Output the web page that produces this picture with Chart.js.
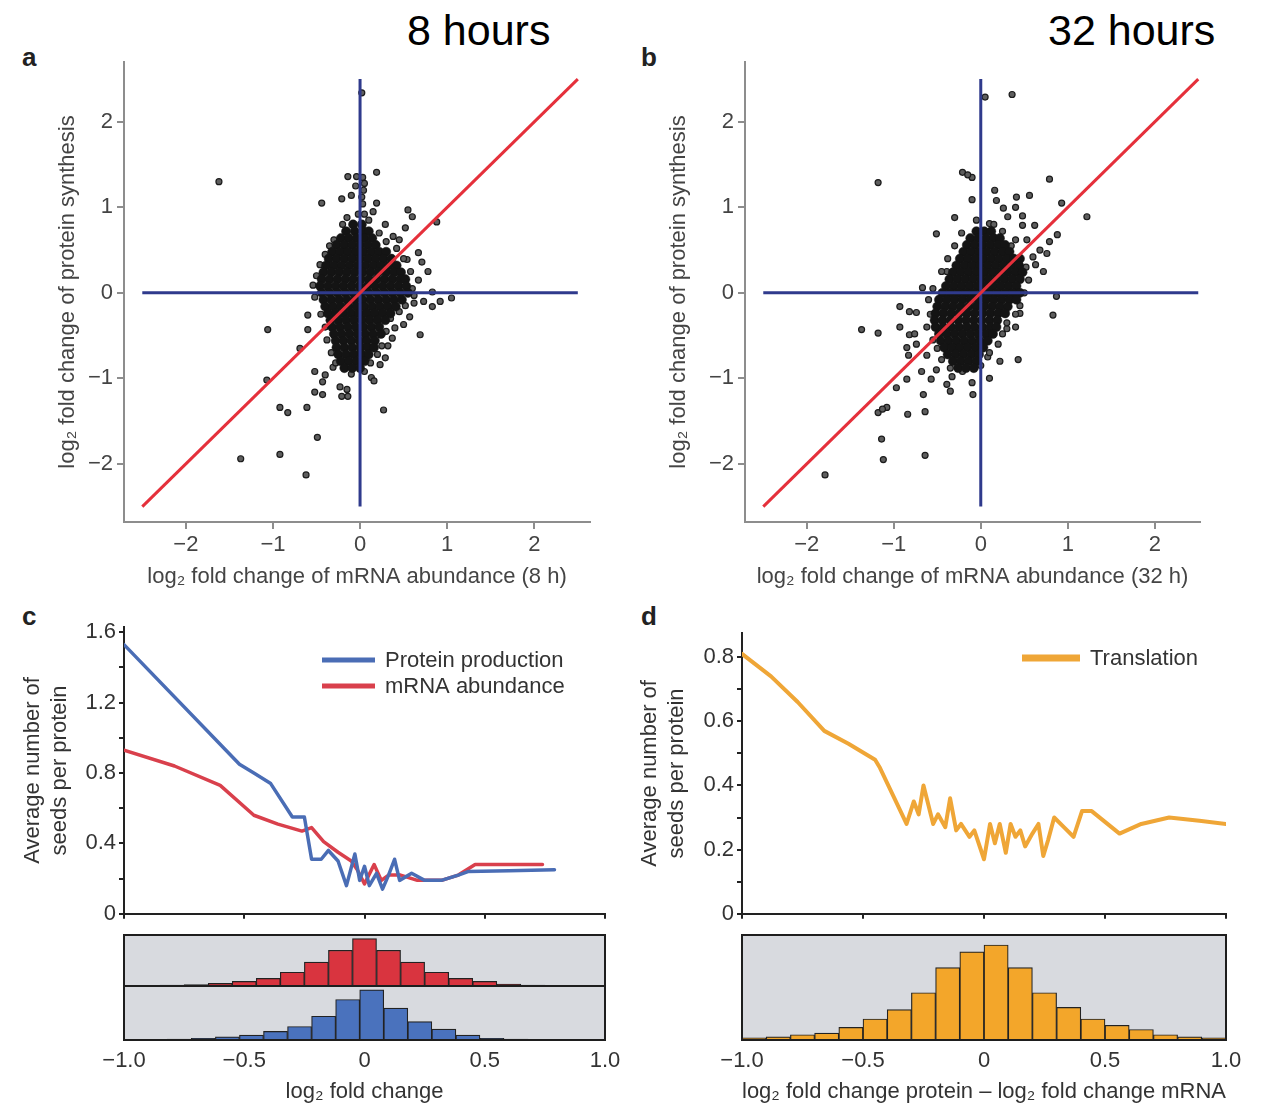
<!DOCTYPE html>
<html>
<head>
<meta charset="utf-8">
<script src="https://cdn.jsdelivr.net/npm/chart.js@4.4.1/dist/chart.umd.min.js"></script>
<style>
  html, body { margin: 0; padding: 0; background: #fff; }
  body { width: 1269px; height: 1108px; position: relative; overflow: hidden; font-family: 'Liberation Sans', Arial, sans-serif; }
  .box { position: absolute; }
  .hours { position: absolute; font-size: 43px; line-height: 1; color: #000; white-space: nowrap; }
  .tag { position: absolute; font-size: 26px; font-weight: bold; line-height: 1; color: #222; }
</style>
</head>
<body>
<div class="hours" style="left:407px;top:9px">8 hours</div>
<div class="hours" style="left:1048px;top:9px">32 hours</div>
<div class="tag" style="left:22px;top:44px">a</div>
<div class="tag" style="left:641px;top:44px">b</div>
<div class="tag" style="left:22px;top:603px">c</div>
<div class="tag" style="left:641px;top:603px">d</div>

<div class="box" style="left:0;top:40px;width:620px;height:560px"><canvas id="scatterA"></canvas></div>
<div class="box" style="left:620px;top:40px;width:649px;height:560px"><canvas id="scatterB"></canvas></div>
<div class="box" style="left:0;top:600px;width:620px;height:330px"><canvas id="lineC"></canvas></div>
<div class="box" style="left:620px;top:600px;width:649px;height:330px"><canvas id="lineD"></canvas></div>
<div class="box" style="left:123px;top:934px;width:483px;height:53px"><canvas id="histCTop"></canvas></div>
<div class="box" style="left:64px;top:985px;width:601px;height:123px"><canvas id="histCBottom"></canvas></div>
<div class="box" style="left:680px;top:934px;width:589px;height:174px"><canvas id="histD"></canvas></div>

<script>
// ---- panels a/b: genes outside the dense core, [mRNA, protein] ----
const spreadA = [
  [-1.62, 1.30], [0.02, 2.34], [0.19, 1.41], [-0.14, 1.36], [-0.04, 1.36], [0.03, 1.35],
  [-0.44, 1.05], [-0.21, 1.10], [-0.10, 1.14], [0.04, 1.20], [0.19, 1.05], [0.15, 0.95],
  [0.03, 1.04], [0.55, 0.97], [0.60, 0.89], [0.88, 0.83], [-0.15, 0.88], [0.29, 0.80],
  [0.52, 0.76], [0.38, 0.66], [0.45, 0.62], [0.67, 0.47], [0.71, 0.36], [0.78, 0.25],
  [0.67, 0.15], [-0.54, 0.09], [-0.46, 0.33], [0.54, 0.39], [0.83, 0.01], [-0.02, 0.92],
  [0.02, 1.12], [-0.05, 1.25], [0.05, 1.28],
  [-1.06, -0.43], [-0.60, -0.26], [-0.60, -0.43], [-0.69, -0.65], [-1.07, -1.02],
  [-0.92, -1.34], [-0.83, -1.40], [-0.61, -1.34], [-0.49, -1.69], [-0.92, -1.89],
  [-1.37, -1.94], [-0.62, -2.13], [0.27, -1.37], [-0.52, -0.92], [-0.40, -0.96],
  [-0.43, -1.04], [-0.52, -1.16], [-0.43, -1.19], [-0.23, -1.10], [-0.15, -1.13],
  [-0.21, -1.21], [-0.14, -1.21], [-0.31, -0.87], [-0.08, -0.88], [0.13, -0.99],
  [0.16, -1.03], [0.29, -0.76], [0.23, -0.84], [0.37, -0.53], [0.32, -0.62], [0.40, -0.41],
  [0.50, -0.37], [0.57, -0.28], [0.69, -0.49], [0.83, -0.16], [0.92, -0.10], [1.05, -0.06],
  [0.73, -0.10], [0.62, -0.12], [0.04, -0.57], [0.00, -0.70], [0.07, -0.78],
  [-0.50, 0.20], [-0.52, -0.05], [0.60, 0.05], [0.62, -0.03], [0.58, 0.25], [0.50, 0.40],
  [0.42, 0.52], [0.30, 0.60], [0.22, 0.70], [-0.30, 0.62], [-0.35, 0.55], [-0.40, 0.45],
  [-0.45, -0.25], [-0.40, -0.40], [-0.38, -0.55], [-0.33, -0.70], [0.30, -0.45],
  [0.35, -0.30], [0.45, -0.22], [0.52, -0.15], [0.25, -0.62], [0.20, -0.72], [0.12, -0.82],
  [-0.28, -0.82], [0.05, -0.92], [-0.10, -0.95], [0.10, 0.85], [-0.20, 0.80], [0.05, 0.92],
]
// dense core, one row per protein level: [protein, [mRNA values]]
const coreA = [
  [0.80, [-0.08, 0.02]],
  [0.72, [-0.16, -0.06, 0.04, 0.10]],
  [0.64, [-0.22, -0.13, -0.04, 0.05, 0.14]],
  [0.56, [-0.27, -0.18, -0.09, 0.00, 0.09, 0.18]],
  [0.48, [-0.32, -0.23, -0.14, -0.05, 0.04, 0.13, 0.22, 0.30]],
  [0.40, [-0.36, -0.27, -0.18, -0.09, 0.00, 0.09, 0.18, 0.27, 0.36]],
  [0.32, [-0.39, -0.30, -0.21, -0.12, -0.03, 0.06, 0.15, 0.24, 0.33, 0.42]],
  [0.24, [-0.42, -0.33, -0.24, -0.15, -0.06, 0.03, 0.12, 0.21, 0.30, 0.39, 0.47]],
  [0.16, [-0.44, -0.35, -0.26, -0.17, -0.08, 0.01, 0.10, 0.19, 0.28, 0.37, 0.46, 0.52]],
  [0.08, [-0.46, -0.37, -0.28, -0.19, -0.10, -0.01, 0.08, 0.17, 0.26, 0.35, 0.44, 0.53]],
  [0.00, [-0.44, -0.35, -0.26, -0.17, -0.08, 0.01, 0.10, 0.19, 0.28, 0.37, 0.46, 0.55]],
  [-0.08, [-0.42, -0.33, -0.24, -0.15, -0.06, 0.03, 0.12, 0.21, 0.30, 0.39, 0.48]],
  [-0.16, [-0.40, -0.31, -0.22, -0.13, -0.04, 0.05, 0.14, 0.23, 0.32, 0.41]],
  [-0.24, [-0.37, -0.28, -0.19, -0.10, -0.01, 0.08, 0.17, 0.26, 0.35]],
  [-0.32, [-0.34, -0.25, -0.16, -0.07, 0.02, 0.11, 0.20, 0.29]],
  [-0.40, [-0.32, -0.23, -0.14, -0.05, 0.04, 0.13, 0.22]],
  [-0.48, [-0.30, -0.21, -0.12, -0.03, 0.06, 0.15, 0.24]],
  [-0.56, [-0.28, -0.19, -0.10, -0.01, 0.08, 0.17]],
  [-0.64, [-0.27, -0.18, -0.09, 0.00, 0.09, 0.16]],
  [-0.72, [-0.25, -0.16, -0.07, 0.02, 0.10]],
  [-0.80, [-0.22, -0.13, -0.04, 0.05]],
  [-0.88, [-0.18, -0.09, 0.00]],
]
const spreadB = [
  [0.36, 2.32], [0.05, 2.29], [-1.18, 1.29], [-0.21, 1.41], [-0.10, 1.35], [-0.15, 1.38],
  [0.79, 1.33], [-0.10, 1.09], [0.16, 1.20], [0.41, 1.12], [0.56, 1.14], [0.93, 1.05],
  [1.22, 0.89], [-0.30, 0.88], [-0.51, 0.69], [0.10, 0.81], [0.31, 0.89], [0.48, 0.90],
  [0.48, 0.79], [0.62, 0.79], [0.26, 0.99], [0.18, 1.08], [0.40, 1.00], [0.88, 0.68],
  [0.79, 0.60], [0.68, 0.50], [0.76, 0.46], [0.53, 0.62], [0.72, 0.25], [0.63, 0.33],
  [-0.39, 0.25], [-0.67, 0.06],
  [-1.37, -0.43], [-1.18, -0.47], [-0.93, -0.16], [-0.93, -0.40], [-0.82, -0.22],
  [-0.74, -0.23], [-0.82, -0.49], [-0.76, -0.48], [-0.85, -0.64], [-0.83, -0.73],
  [-0.74, -0.60], [-0.68, -0.92], [-0.62, -0.73], [-0.97, -1.11], [-0.85, -1.01],
  [-1.08, -1.34], [-1.18, -1.40], [-1.13, -1.36], [-0.84, -1.42], [-0.64, -1.39], [-0.66, -1.19],
  [-1.14, -1.71], [-1.12, -1.95], [-0.64, -1.90], [-1.79, -2.13], [-0.39, -1.07],
  [-0.35, -1.15], [-0.57, -1.01], [-0.51, -0.90], [-0.33, -0.98], [-0.21, -0.92],
  [-0.10, -1.05], [-0.09, -1.19], [0.10, -1.00], [0.08, -0.75], [0.22, -0.80], [0.43, -0.78],
  [0.83, -0.26], [0.87, -0.04], [0.45, -0.24], [0.40, -0.40], [0.30, -0.42],
  [-0.55, 0.05], [-0.60, -0.08], [-0.58, -0.25], [-0.62, -0.40], [-0.55, -0.55],
  [-0.50, -0.65], [-0.45, -0.78], [-0.35, -0.88], [0.52, 0.30], [0.55, 0.15], [0.50, 0.00],
  [0.45, -0.15], [0.40, -0.25], [0.30, -0.35], [0.25, -0.48], [0.20, -0.60], [0.10, -0.70],
  [0.00, -0.85], [0.35, 0.55], [0.40, 0.62], [0.25, 0.72], [0.15, 0.80], [-0.05, 0.85],
  [-0.22, 0.70], [-0.30, 0.55], [-0.38, 0.40], [-0.45, 0.25], [0.60, 0.42],
]
const coreB = [
  [0.72, [-0.05, 0.04, 0.12]],
  [0.64, [-0.12, -0.03, 0.06, 0.15, 0.22]],
  [0.56, [-0.16, -0.07, 0.02, 0.11, 0.20, 0.28]],
  [0.48, [-0.20, -0.11, -0.02, 0.07, 0.16, 0.25, 0.33]],
  [0.40, [-0.24, -0.15, -0.06, 0.03, 0.12, 0.21, 0.30, 0.38, 0.45]],
  [0.32, [-0.28, -0.19, -0.10, -0.01, 0.08, 0.17, 0.26, 0.35, 0.44]],
  [0.24, [-0.32, -0.23, -0.14, -0.05, 0.04, 0.13, 0.22, 0.31, 0.40, 0.48]],
  [0.16, [-0.36, -0.27, -0.18, -0.09, 0.00, 0.09, 0.18, 0.27, 0.36, 0.45]],
  [0.08, [-0.40, -0.31, -0.22, -0.13, -0.04, 0.05, 0.14, 0.23, 0.32, 0.41]],
  [0.00, [-0.44, -0.35, -0.26, -0.17, -0.08, 0.01, 0.10, 0.19, 0.28, 0.37, 0.45]],
  [-0.08, [-0.48, -0.39, -0.30, -0.21, -0.12, -0.03, 0.06, 0.15, 0.24, 0.33, 0.41]],
  [-0.16, [-0.50, -0.41, -0.32, -0.23, -0.14, -0.05, 0.04, 0.13, 0.22, 0.31]],
  [-0.24, [-0.52, -0.43, -0.34, -0.25, -0.16, -0.07, 0.02, 0.11, 0.20, 0.28]],
  [-0.32, [-0.53, -0.44, -0.35, -0.26, -0.17, -0.08, 0.01, 0.10, 0.19]],
  [-0.40, [-0.52, -0.43, -0.34, -0.25, -0.16, -0.07, 0.02, 0.11, 0.18]],
  [-0.48, [-0.48, -0.39, -0.30, -0.21, -0.12, -0.03, 0.06, 0.14]],
  [-0.56, [-0.46, -0.37, -0.28, -0.19, -0.10, -0.01, 0.08]],
  [-0.64, [-0.42, -0.33, -0.24, -0.15, -0.06, 0.03]],
  [-0.72, [-0.38, -0.29, -0.20, -0.11, -0.02]],
  [-0.80, [-0.32, -0.23, -0.14, -0.05]],
  [-0.88, [-0.26, -0.17, -0.08]],
]
const guideEnds = [-2.5, 2.5]

// ---- panel c: seeds per protein vs log2 fold change ----
const proteinX = [-1.0, -0.52, -0.46, -0.39, -0.30, -0.25, -0.22, -0.18, -0.15, -0.11, -0.075, -0.04, -0.02, 0.0, 0.02, 0.05, 0.075, 0.10, 0.125, 0.146, 0.196, 0.25, 0.32, 0.39, 0.43, 0.60, 0.79]
const proteinY = [1.53, 0.85, 0.80, 0.74, 0.55, 0.55, 0.31, 0.31, 0.36, 0.30, 0.16, 0.34, 0.19, 0.27, 0.16, 0.23, 0.14, 0.22, 0.31, 0.19, 0.23, 0.19, 0.19, 0.22, 0.24, 0.245, 0.25]
const mrnaX = [-1.0, -0.79, -0.60, -0.46, -0.36, -0.26, -0.22, -0.17, -0.11, -0.055, -0.03, 0.0, 0.04, 0.07, 0.10, 0.15, 0.22, 0.32, 0.39, 0.46, 0.74]
const mrnaY = [0.93, 0.84, 0.73, 0.56, 0.51, 0.47, 0.49, 0.41, 0.35, 0.30, 0.25, 0.17, 0.28, 0.19, 0.22, 0.22, 0.19, 0.19, 0.22, 0.28, 0.28]

// ---- panel d: seeds per protein vs translation change ----
const translationX = [-1.0, -0.88, -0.77, -0.66, -0.56, -0.45, -0.43, -0.37, -0.32, -0.29, -0.27, -0.25, -0.21, -0.19, -0.16, -0.14, -0.115, -0.095, -0.06, -0.04, 0.0, 0.025, 0.045, 0.065, 0.09, 0.11, 0.13, 0.15, 0.17, 0.20, 0.225, 0.245, 0.265, 0.29, 0.33, 0.37, 0.405, 0.445, 0.56, 0.65, 0.765, 0.89, 1.0]
const translationY = [0.81, 0.74, 0.66, 0.57, 0.53, 0.48, 0.455, 0.36, 0.28, 0.35, 0.31, 0.40, 0.28, 0.31, 0.27, 0.36, 0.26, 0.28, 0.24, 0.26, 0.17, 0.28, 0.22, 0.28, 0.19, 0.28, 0.24, 0.26, 0.21, 0.25, 0.28, 0.18, 0.23, 0.30, 0.27, 0.24, 0.32, 0.32, 0.25, 0.28, 0.30, 0.29, 0.28]

// ---- histograms (relative counts, bin centres) ----
const mrnaBins = [-1.0, -0.9, -0.8, -0.7, -0.6, -0.5, -0.4, -0.3, -0.2, -0.1, 0.0, 0.1, 0.2, 0.3, 0.4, 0.5, 0.6, 0.7, 0.8, 0.9, 1.0]
const mrnaCounts = [0.5, 1, 2, 3, 5, 9, 15, 27, 47, 70, 93, 70, 47, 27, 15, 9, 4, 2, 1, 0.5, 0.3]
const proteinBins = [-0.97, -0.87, -0.77, -0.67, -0.57, -0.47, -0.37, -0.27, -0.17, -0.07, 0.03, 0.13, 0.23, 0.33, 0.43, 0.53, 0.63, 0.73, 0.83, 0.93]
const proteinCounts = [0.5, 1, 1.5, 3, 6, 9, 16, 25, 44, 75, 93, 59, 34, 20, 9, 3, 1.5, 1, 0.5, 0.5]
const translationBins = [-0.95, -0.85, -0.75, -0.65, -0.55, -0.45, -0.35, -0.25, -0.15, -0.05, 0.05, 0.15, 0.25, 0.35, 0.45, 0.55, 0.65, 0.75, 0.85, 0.95]
const translationCounts = [2, 3, 5, 6.5, 12, 20, 29, 45, 69, 84, 90.5, 69, 45, 31, 20, 14, 10, 5, 3, 2]

const FONT = "'Liberation Sans', Arial, Helvetica, sans-serif"
Chart.defaults.font.family = FONT
Chart.defaults.font.size = 22
Chart.defaults.color = '#3a3a3a'
Chart.defaults.animation = false

const zip = (xs, ys) => xs.map((x, i) => ({ x, y: ys[i] }))
const pairs = arr => arr.map(([x, y]) => ({ x, y }))
const cloud = rows => rows.flatMap(([y, xs]) => xs.map(x => ({ x, y })))
const minus = v => (v < 0 ? '\u2212' + Math.abs(v) : String(v))
const oneDp = v => (Math.abs(v) < 1e-9 ? '0' : (v < 0 ? '\u2212' : '') + Math.abs(v).toFixed(1))

const lineLegend = {
  id: 'lineLegend',
  afterDraw(chart, args, opts) {
    const ctx = chart.ctx
    ctx.save()
    ctx.font = '22px ' + FONT
    ctx.textBaseline = 'middle'
    chart.data.datasets.forEach((ds, i) => {
      const y = opts.y + i * opts.rowGap
      ctx.strokeStyle = ds.borderColor
      ctx.lineWidth = opts.lineWidth
      ctx.beginPath()
      ctx.moveTo(opts.x, y)
      ctx.lineTo(opts.x + opts.length, y)
      ctx.stroke()
      ctx.fillStyle = '#333'
      ctx.fillText(ds.label, opts.x + opts.length + 10, y + 1)
    })
    ctx.restore()
  },
}

const panelBox = {
  id: 'panelBox',
  beforeDatasetsDraw(chart) {
    const { ctx, chartArea: a } = chart
    ctx.save()
    ctx.fillStyle = '#d8dadf'
    ctx.fillRect(a.left, a.top, a.right - a.left, a.bottom - a.top)
    ctx.restore()
  },
  afterDatasetsDraw(chart) {
    const { ctx, chartArea: a } = chart
    ctx.save()
    ctx.strokeStyle = '#1e1e1e'
    ctx.lineWidth = 2
    ctx.strokeRect(a.left, a.top, a.right - a.left, a.bottom - a.top)
    ctx.restore()
  },
}

function scatterChart(id, core, spread, cfg) {
  const axisColor = '#8d8d8d'
  return new Chart(document.getElementById(id), {
    type: 'scatter',
    data: {
      datasets: [
        { data: zip(guideEnds, guideEnds), showLine: true, borderColor: '#e5303b', borderWidth: 3, pointRadius: 0, order: 0 },
        { data: zip(guideEnds, [0, 0]), showLine: true, borderColor: '#2f3a8c', borderWidth: 3, pointRadius: 0, order: 1 },
        { data: zip([0, 0], guideEnds), showLine: true, borderColor: '#2f3a8c', borderWidth: 3, pointRadius: 0, order: 1 },
        { data: cloud(core), pointRadius: 4.6, backgroundColor: '#141414', borderColor: '#141414', borderWidth: 0.5, order: 2 },
        { data: pairs(spread), pointRadius: 3, backgroundColor: '#5e5e5e', borderColor: '#1b1b1b', borderWidth: 1.2, order: 2 },
      ],
    },
    options: {
      responsive: true,
      maintainAspectRatio: false,
      layout: { padding: { top: 22, right: cfg.padRight, left: 0, bottom: 0 } },
      plugins: { legend: { display: false }, tooltip: { enabled: false } },
      scales: {
        x: {
          type: 'linear', min: cfg.xMin, max: cfg.xMax,
          afterFit: s => { s.height = 78 },
          border: { color: axisColor, width: 2 },
          grid: { drawOnChartArea: false, tickLength: 7, color: axisColor, lineWidth: 2 },
          ticks: { stepSize: 1, includeBounds: false, padding: 3, color: '#444', callback: minus },
          title: { display: true, text: cfg.xTitle, color: '#444', padding: { top: 0, bottom: 10 } },
        },
        y: {
          type: 'linear', min: -2.68, max: 2.7,
          afterFit: s => { s.width = cfg.yWidth },
          border: { color: axisColor, width: 2 },
          grid: { drawOnChartArea: false, tickLength: 7, color: axisColor, lineWidth: 2 },
          ticks: { stepSize: 1, includeBounds: false, padding: 4, color: '#444', callback: minus },
          title: { display: true, text: 'log\u2082 fold change of protein synthesis', color: '#444', padding: { top: cfg.titlePad, bottom: 0 } },
        },
      },
    },
  })
}

scatterChart('scatterA', coreA, spreadA, {
  xMin: -2.71, xMax: 2.64, padRight: 30, yWidth: 124, titlePad: 55,
  xTitle: 'log\u2082 fold change of mRNA abundance (8 h)',
})
scatterChart('scatterB', coreB, spreadB, {
  xMin: -2.71, xMax: 2.52, padRight: 69, yWidth: 125, titlePad: 46,
  xTitle: 'log\u2082 fold change of mRNA abundance (32 h)',
})

function seedsChart(id, datasets, cfg) {
  return new Chart(document.getElementById(id), {
    type: 'line',
    data: { datasets },
    plugins: [lineLegend],
    options: {
      responsive: true,
      maintainAspectRatio: false,
      layout: { padding: { top: cfg.padTop, right: cfg.padRight, left: 0, bottom: 0 } },
      plugins: { legend: { display: false }, tooltip: { enabled: false }, lineLegend: cfg.legend },
      elements: { point: { radius: 0 }, line: { tension: 0, borderJoinStyle: 'round', borderCapStyle: 'round' } },
      scales: {
        x: {
          type: 'linear', min: -1, max: 1,
          afterFit: s => { s.height = 8 },
          border: { color: '#222', width: 2 },
          grid: { drawOnChartArea: false, tickLength: 5, color: '#222', lineWidth: 2 },
          ticks: { display: false, stepSize: 0.5 },
        },
        y: {
          type: 'linear', min: 0, max: cfg.yMax,
          afterFit: s => { s.width = cfg.yWidth },
          border: { color: '#222', width: 2 },
          grid: { drawOnChartArea: false, tickLength: 5, color: '#222', lineWidth: 2 },
          ticks: {
            stepSize: cfg.minorStep, includeBounds: false, padding: 3, color: '#333',
            callback: v => {
              const k = v / cfg.labelStep
              if (Math.abs(k - Math.round(k)) > 1e-6) return ''
              return Math.abs(v) < 1e-9 ? '0' : v.toFixed(1)
            },
          },
          title: { display: true, text: ['Average number of', 'seeds per protein'], color: '#333', padding: { top: cfg.titlePad, bottom: 0 } },
        },
      },
    },
  })
}

seedsChart('lineC', [
  { label: 'Protein production', data: zip(proteinX, proteinY), borderColor: '#4a6db5', borderWidth: 3.5 },
  { label: 'mRNA abundance', data: zip(mrnaX, mrnaY), borderColor: '#d9404c', borderWidth: 3.5 },
], {
  padTop: 27, padRight: 15, yWidth: 124, yMax: 1.63, minorStep: 0.2, labelStep: 0.4, titlePad: 20,
  legend: { x: 322, y: 60, length: 53, rowGap: 26, lineWidth: 5 },
})

seedsChart('lineD', [
  { label: 'Translation', data: zip(translationX, translationY), borderColor: '#efa637', borderWidth: 4 },
], {
  padTop: 33, padRight: 43, yWidth: 122, yMax: 0.875, minorStep: 0.1, labelStep: 0.2, titlePad: 17,
  legend: { x: 402, y: 58, length: 58, rowGap: 26, lineWidth: 7 },
})

function histChart(id, bins, counts, color, cfg) {
  return new Chart(document.getElementById(id), {
    type: 'bar',
    data: {
      datasets: [{
        data: zip(bins, counts), backgroundColor: color, borderColor: '#222', borderWidth: 1.2,
        barPercentage: 1, categoryPercentage: 1,
      }],
    },
    plugins: [panelBox],
    options: {
      responsive: true,
      maintainAspectRatio: false,
      layout: { padding: cfg.padding },
      plugins: { legend: { display: false }, tooltip: { enabled: false } },
      scales: {
        x: {
          type: 'linear', min: -1, max: 1, offset: false, display: cfg.showAxis,
          afterFit: s => { if (cfg.showAxis) s.height = cfg.axisHeight },
          border: { display: false },
          grid: { display: false, drawTicks: false },
          ticks: { stepSize: 0.5, padding: 8, color: '#333', callback: oneDp },
          title: { display: true, text: cfg.title, color: '#333', padding: { top: 0, bottom: 3 } },
        },
        y: { display: false, min: 0, max: 100 },
      },
    },
  })
}

histChart('histCTop', mrnaBins, mrnaCounts, '#d9343f', {
  showAxis: false, padding: 1,
})
histChart('histCBottom', proteinBins, proteinCounts, '#4a72bd', {
  showAxis: true, axisHeight: 68, title: 'log\u2082 fold change',
  padding: { top: 1, left: 60, right: 60, bottom: 0 },
})
histChart('histD', translationBins, translationCounts, '#f3a62a', {
  showAxis: true, axisHeight: 68, title: 'log\u2082 fold change protein \u2013 log\u2082 fold change mRNA',
  padding: { top: 1, left: 62, right: 43, bottom: 0 },
})
</script>
</body>
</html>
